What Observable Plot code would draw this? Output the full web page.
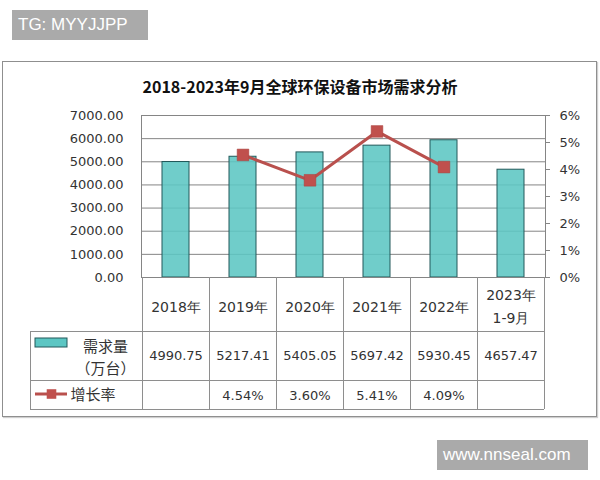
<!DOCTYPE html>
<html>
<head>
<meta charset="utf-8">
<script src="https://cdn.jsdelivr.net/npm/d3@7"></script>
<script src="https://cdn.jsdelivr.net/npm/@observablehq/plot@0.6"></script>
<style>
  html, body { margin: 0; padding: 0; background: #fff; }
  #page { position: relative; width: 600px; height: 480px; overflow: hidden; background: #fff; }
  .tag { position: absolute; background: #aaaaaa; color: #fff; font-family: "Liberation Sans", Arial, sans-serif; font-size: 17px; line-height: 30px; height: 30px; padding-left: 6px; box-sizing: border-box; }
  #frame { position: absolute; left: 2px; top: 61px; width: 595px; height: 356px; border: 1px solid #8f8f8f; box-sizing: border-box; box-shadow: 1px 1px 1px #cfcfcf; }
  #title { position: absolute; left: 0; top: 74px; width: 600px; text-align: center; font-family: "Noto Sans CJK SC", sans-serif; font-weight: bold; font-size: 16px; line-height: 24px; color: #111; }
  #page svg { position: absolute; left: 0; top: 0; }
</style>
</head>
<body>
<div id="page">
  <div id="frame"></div>
  <div id="title">2018-2023年9月全球环保设备市场需求分析</div>
  <div class="tag" style="left:12px;top:10px;width:136px;">TG: MYYJJPP</div>
  <div class="tag" style="left:437px;top:440px;width:151px;">www.nnseal.com</div>
</div>
<script>
// ---- data ----
const categories = ["2018年", "2019年", "2020年", "2021年", "2022年", "2023年\n1-9月"];
const demand = [4990.75, 5217.41, 5405.05, 5697.42, 5930.45, 4657.47];   // 需求量（万台）
const growth = [null, 4.54, 3.60, 5.41, 4.09, null];                      // 增长率 %
const leftTicks = [0, 1000, 2000, 3000, 4000, 5000, 6000, 7000];
const rightTicks = [0, 1, 2, 3, 4, 5, 6];
const seriesNames = ["需求量\n（万台）", "增长率"];

// ---- styles ----
const barFill = "#5cc6c3", barStroke = "#22595a";
const lineColor = "#b9504d", markColor = "#c0504d";
const gridColor = "#858585", tableColor = "#8e8e8e", textColor = "#333";
const leftMax = 7000, rightMax = 6;
const toLeft = p => p * leftMax / rightMax;

const rows = categories.map((c, i) => ({cat: c, demand: demand[i], growth: growth[i]}));
const growthRows = rows.filter(d => d.growth != null);

const page = document.getElementById("page");

const chart = Plot.plot({
  width: 600,
  height: 480,
  marginLeft: 141,
  marginRight: 55,
  marginTop: 115,
  marginBottom: 203,
  style: {background: "transparent", fontFamily: "DejaVu Sans, sans-serif", fontSize: "13px", color: textColor},
  x: {type: "band", domain: categories, paddingInner: 0.6, paddingOuter: 0.3, axis: null, label: null},
  y: {domain: [0, leftMax], axis: null, label: null},
  marks: [
    Plot.ruleY(leftTicks, {stroke: gridColor, strokeWidth: 1}),
    Plot.barY(rows, {x: "cat", y: "demand", fill: barFill, fillOpacity: 0.88, stroke: barStroke, strokeWidth: 1}),
    Plot.frame({stroke: gridColor}),
    Plot.axisY({anchor: "left", label: null, ticks: leftTicks, tickFormat: d => d.toFixed(2), tickSize: 0, tickPadding: 18, fill: textColor, fontSize: 13}),
    Plot.axisY({anchor: "right", label: null, ticks: rightTicks.map(toLeft), tickFormat: d => Math.round(d * rightMax / leftMax) + "%", tickSize: 4, tickPadding: 10, stroke: gridColor, fill: textColor, fontSize: 13}),
    Plot.line(growthRows, {x: "cat", y: d => toLeft(d.growth), stroke: lineColor, strokeWidth: 3}),
    Plot.dot(growthRows, {x: "cat", y: d => toLeft(d.growth), symbol: "square", r: 6.6, fill: markColor, stroke: "#a9403d", strokeWidth: 0.5})
  ]
});
page.appendChild(chart);

// ---- data table under the chart, laid out from the chart's own scales ----
const xs = chart.scale("x"), ys = chart.scale("y");
const step = xs.step, bw = xs.bandwidth;
const colCenter = c => xs.apply(c) + bw / 2;
const colLeft = c => colCenter(c) - step / 2;
const tableLeft = 30;
const tableRight = colCenter(categories[categories.length - 1]) + step / 2;
const headTop = ys.apply(0);
const headH = 54, demandH = 49, growthH = 29;
const r1 = headTop + headH, r2 = r1 + demandH, r3 = r2 + growthH;

const vLines = categories.map(colLeft).concat([tableRight]);

const table = Plot.plot({
  width: 600,
  height: 480,
  margin: 0,
  style: {background: "transparent", fontFamily: "DejaVu Sans, sans-serif", fontSize: "13px", color: textColor},
  x: {type: "identity", axis: null},
  y: {type: "identity", axis: null},
  marks: [
    // vertical grid of the table
    Plot.ruleX(vLines, {x: d => d, y1: headTop, y2: r3, stroke: tableColor}),
    Plot.ruleX([tableLeft], {x: d => d, y1: r1, y2: r3, stroke: tableColor}),
    Plot.ruleY([r1, r2, r3], {y: d => d, x1: tableLeft, x2: tableRight, stroke: tableColor}),
    // header labels
    Plot.text(categories, {x: colCenter, y: (headTop + r1) / 2, text: d => d, fill: textColor, fontSize: 14, lineHeight: 1.6}),
    // demand values
    Plot.text(rows, {x: d => colCenter(d.cat), y: (r1 + r2) / 2, text: d => d.demand.toFixed(2), fill: textColor, fontSize: 13}),
    // growth values
    Plot.text(growthRows, {x: d => colCenter(d.cat), y: (r2 + r3) / 2 + 1, text: d => d.growth.toFixed(2) + "%", fill: textColor, fontSize: 13}),
    // legend: demand
    Plot.rect([0], {x1: tableLeft + 5, x2: tableLeft + 37, y1: r1 + 7, y2: r1 + 16, fill: barFill, stroke: barStroke}),
    Plot.text([seriesNames[0]], {x: tableLeft + 75, y: (r1 + r2) / 2, text: d => d, fill: textColor, fontSize: 15, lineHeight: 1.5, fontFamily: "Noto Sans CJK SC", letterSpacing: "2px"}),
    // legend: growth
    Plot.ruleY([0], {y: (r2 + r3) / 2 - 1, x1: tableLeft + 5, x2: tableLeft + 37, stroke: lineColor, strokeWidth: 3}),
    Plot.dot([0], {x: tableLeft + 21, y: (r2 + r3) / 2 - 1, symbol: "square", r: 5.4, fill: markColor}),
    Plot.text([seriesNames[1]], {x: tableLeft + 40, y: (r2 + r3) / 2, text: d => d, textAnchor: "start", fill: textColor, fontSize: 15, fontFamily: "Noto Sans CJK SC", letterSpacing: "2px"})
  ]
});
page.appendChild(table);
</script>
</body>
</html>
